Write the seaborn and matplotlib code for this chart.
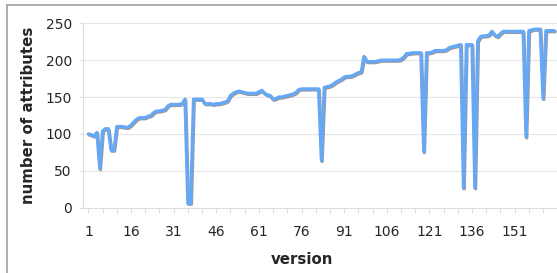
import matplotlib
matplotlib.use("Agg")
import matplotlib.pyplot as plt
import matplotlib.patheffects as pe
from matplotlib.lines import Line2D
import seaborn as sns
import pandas as pd

# number of attributes per version
attributes = [
    100, 99, 97, 102, 53, 104, 107, 107, 78, 78,
    110, 110, 110, 109, 109, 112, 116, 120, 122, 122,
    122, 124, 125, 129, 131, 131, 132, 133, 138, 140,
    140, 140, 140, 141, 147, 6, 6, 147, 147, 147,
    147, 141, 141, 141, 140, 141, 141, 142, 143, 145,
    152, 155, 157, 158, 157, 156, 155, 155, 155, 155,
    157, 159, 155, 153, 152, 147, 148, 150, 150, 151,
    152, 153, 154, 156, 160, 161, 161, 161, 161, 161,
    161, 161, 64, 163, 164, 165, 167, 170, 172, 174,
    177, 178, 178, 179, 181, 183, 184, 205, 198, 198,
    198, 198, 199, 200, 200, 200, 200, 200, 200, 200,
    201, 204, 209, 209, 210, 210, 210, 210, 76, 210,
    210, 211, 213, 213, 213, 213, 214, 217, 218, 219,
    220, 221, 27, 221, 221, 221, 27, 226, 232, 233,
    233, 234, 239, 234, 232, 236, 239, 239, 239, 239,
    239, 239, 239, 239, 96, 240, 241, 242, 242, 242,
    148, 240, 240, 240, 240,
]
versions = list(range(1, len(attributes) + 1))

x_tick_labels = ['1', '16', '31', '46', '61', '76', '91', '106', '121', '136', '151']
y_ticks = [0, 50, 100, 150, 200, 250]

df = pd.DataFrame({'version': versions, 'attributes': attributes})

sns.set_style('white')
plt.rcParams['font.family'] = ['DejaVu Sans']

fig = plt.figure(figsize=(5.57, 2.73), dpi=100)
ax = fig.add_axes([83 / 557, 65.3 / 273, 474 / 557, 184.4 / 273])

sns.lineplot(data=df, x='version', y='attributes', ax=ax, color='#66A8F6',
             linewidth=2.4, zorder=3,
             path_effects=[pe.SimpleLineShadow(offset=(0.5, -0.7), shadow_color='#555555', alpha=0.6),
                           pe.Normal()])

ax.set_xlim(-0.9, 165.9)
ax.set_ylim(0, 250)
ax.set_yticks(y_ticks)
ax.set_xticks([int(t) for t in x_tick_labels])
ax.set_xticklabels(x_tick_labels)
ax.set_xticks(list(range(6, 166, 5)), minor=True)

ax.grid(axis='y', color='#E6E6E6', linewidth=0.8)
ax.set_axisbelow(True)
for side in ['top', 'right']:
    ax.spines[side].set_visible(False)
for side in ['left', 'bottom']:
    ax.spines[side].set_color('#DDDDDD')
    ax.spines[side].set_linewidth(0.8)

ax.tick_params(axis='x', which='both', direction='out', length=3.5, width=0.8, color='#DDDDDD',
               labelsize=10, pad=9, bottom=True)
ax.tick_params(axis='y', direction='out', length=3, width=0.8, color='#DDDDDD',
               labelsize=10, pad=5, left=True)

ax.set_xlabel('version', fontsize=10.8, fontweight='bold')
ax.set_ylabel('number of attributes', fontsize=10.8, fontweight='bold')
ax.xaxis.set_label_coords(0.461, -0.2836)
ax.xaxis.label.set_va('center')
ax.yaxis.set_label_coords(-0.116, 0.5)
ax.yaxis.label.set_va('center')

# chart border (cropped on the right and bottom)
fig.add_artist(Line2D([7 / 557, 7 / 557], [0, 1 - 5 / 273], color='#A8A8A8', linewidth=1.3))
fig.add_artist(Line2D([7 / 557, 1.0], [1 - 5 / 273, 1 - 5 / 273], color='#A8A8A8', linewidth=1.3))

fig.savefig('out.png', dpi=100)
